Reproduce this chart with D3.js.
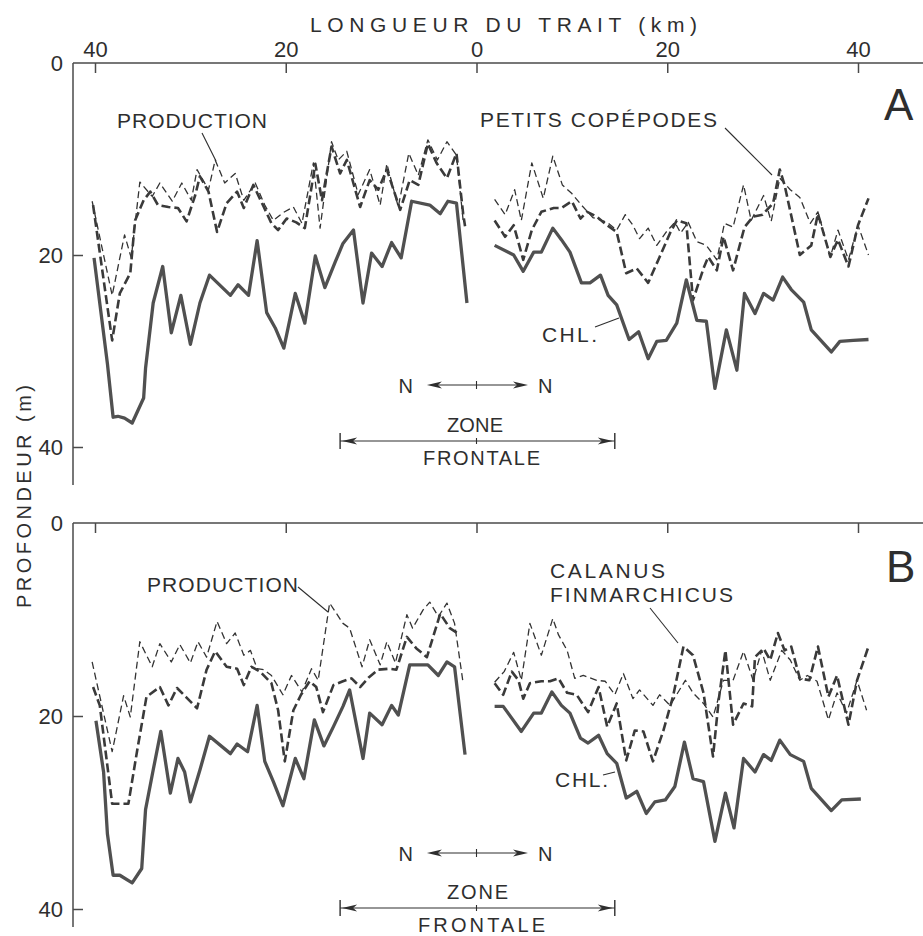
<!DOCTYPE html>
<html><head><meta charset="utf-8">
<script src="https://cdn.jsdelivr.net/npm/d3@7"></script>
<style>
body{margin:0;background:#fff;}
svg{display:block;}
text{font-family:"Liberation Sans",Arial,Helvetica,sans-serif;fill:#2e2e2e;}
</style></head><body>
<svg id="c" width="923" height="936"></svg>
<script>
// ---- axis ticks ----
const xTicks = [-40, -20, 0, 20, 40];
const yTicks = [0, 20, 40];
const xTitle = "LONGUEUR DU TRAIT (km)";
const yTitle = "PROFONDEUR (m)";

// ---- Panel A : [distance km (negative = left branch), depth m] ----
const prodA_L = [[-40.3,14.4],[-38.2,24.2],[-36.9,17.9],[-36.2,20.3],[-35.3,12.4],[-34.0,13.9],[-33.2,12.5],[-31.9,14.4],[-30.9,12.5],[-29.9,14.3],[-29.3,11.1],[-28.1,13.2],[-27.4,10.1],[-26.4,12.5],[-25.3,11.5],[-24.4,14.3],[-23.2,12.5],[-22.2,14.8],[-21.3,16.4],[-20.3,15.6],[-19.2,15.0],[-18.3,16.7],[-17.1,10.4],[-16.4,17.2],[-15.2,8.2],[-14.5,10.1],[-13.6,9.2],[-12.4,13.7],[-11.2,11.1],[-10.1,14.8],[-9.4,10.5],[-8.2,15.0],[-7.1,9.4],[-6.1,11.7],[-5.1,8.0],[-4.1,10.1],[-3.1,8.2],[-2.1,9.6],[-1.4,16.4]];
const copA_L = [[-40.2,14.8],[-38.2,28.9],[-37.4,24.0],[-36.3,21.9],[-35.8,16.4],[-34.9,14.3],[-34.2,13.4],[-33.4,14.8],[-32.3,15.0],[-31.3,15.1],[-30.4,16.5],[-29.5,13.8],[-29.0,11.8],[-28.1,13.4],[-27.2,17.6],[-26.2,14.6],[-25.1,13.4],[-24.4,15.1],[-23.4,12.7],[-22.3,15.0],[-21.5,16.7],[-20.8,17.4],[-19.9,16.2],[-18.9,16.6],[-18.0,17.2],[-16.9,10.5],[-16.2,14.3],[-15.2,8.7],[-14.3,11.5],[-13.6,10.1],[-12.2,15.0],[-11.2,12.2],[-10.3,13.2],[-9.4,11.1],[-8.0,15.3],[-7.0,12.2],[-6.1,12.7],[-5.1,8.4],[-4.2,10.4],[-3.1,12.0],[-2.1,9.4],[-1.4,15.7],[-1.2,17.0]];
const chlA_L = [[-40.1,20.3],[-38.7,31.3],[-38.1,36.9],[-37.6,36.8],[-36.9,37.0],[-36.1,37.5],[-34.9,34.9],[-34.7,31.8],[-33.9,25.0],[-32.9,21.2],[-32.0,28.1],[-31.0,24.2],[-30.0,29.3],[-29.0,25.0],[-28.0,22.1],[-25.8,24.2],[-25.0,23.1],[-23.9,24.2],[-23.0,18.5],[-22.0,26.0],[-21.1,27.6],[-20.2,29.7],[-19.0,24.0],[-18.0,27.1],[-16.9,20.1],[-15.9,23.4],[-14.8,20.7],[-14.0,18.8],[-12.9,17.4],[-11.9,25.0],[-11.0,19.8],[-9.9,21.2],[-8.9,18.7],[-7.9,20.3],[-6.8,14.4],[-4.9,14.8],[-3.8,15.7],[-3.0,14.4],[-2.1,14.6],[-1.0,25.0]];
const prodA_R = [[1.9,14.2],[3.0,15.8],[4.0,13.2],[4.7,16.4],[5.8,10.4],[7.0,14.1],[8.0,9.7],[9.0,12.7],[10.0,13.6],[11.0,14.8],[12.2,16.1],[13.7,16.6],[14.7,17.4],[15.6,15.8],[16.4,16.9],[17.1,18.3],[18.0,17.2],[18.9,19.0],[19.9,17.6],[20.8,16.6],[21.4,17.7],[22.2,16.6],[23.1,18.6],[24.1,19.0],[25.2,20.5],[26.0,16.7],[26.9,17.1],[28.0,12.7],[28.8,16.4],[30.1,13.8],[30.9,16.5],[31.8,12.0],[32.9,13.2],[33.9,14.0],[35.0,16.7],[35.8,15.5],[37.1,20.2],[37.9,17.4],[39.0,20.5],[40.0,16.9],[41.1,20.0]];
const copA_R = [[1.9,16.4],[3.0,18.1],[3.9,16.9],[4.9,20.5],[5.8,17.4],[6.8,15.5],[8.1,15.1],[8.9,15.1],[10.0,14.4],[10.9,16.2],[11.6,15.5],[12.6,16.0],[13.7,16.9],[14.7,17.6],[15.7,21.9],[16.8,21.4],[18.0,22.9],[19.2,20.2],[20.3,17.7],[21.0,16.4],[22.0,16.7],[22.7,24.7],[23.8,21.4],[24.3,20.2],[25.2,21.6],[25.9,18.1],[26.9,21.6],[28.1,17.1],[29.0,16.0],[30.0,15.8],[31.1,14.6],[31.8,11.1],[32.3,12.7],[33.9,20.0],[35.1,19.0],[35.8,15.7],[37.1,20.2],[37.9,18.4],[39.0,21.2],[40.0,16.9],[41.1,14.1]];
const chlA_R = [[1.9,19.0],[3.9,20.0],[4.9,21.7],[6.0,19.7],[6.8,19.7],[8.0,17.2],[8.9,18.4],[9.8,19.7],[11.0,22.9],[11.9,22.9],[13.0,22.1],[13.8,24.2],[14.7,25.2],[16.0,28.8],[17.0,28.0],[18.0,30.8],[18.9,29.0],[19.9,28.9],[21.0,27.1],[22.0,22.6],[23.1,26.8],[24.1,26.9],[25.0,33.9],[26.2,27.8],[27.3,32.0],[28.1,24.0],[29.2,26.1],[30.1,24.0],[31.1,24.7],[32.1,22.3],[33.0,23.6],[34.3,24.9],[35.1,27.8],[37.2,30.1],[38.1,29.0],[39.5,28.9],[41.1,28.8]];

// ---- Panel B ----
const prodB_L = [[-40.3,14.4],[-38.2,23.7],[-37.0,17.9],[-36.3,20.1],[-35.3,12.3],[-34.0,14.9],[-33.2,12.5],[-32.0,14.4],[-31.1,12.6],[-30.0,14.5],[-29.2,12.3],[-28.3,13.9],[-27.2,10.2],[-26.2,12.5],[-25.3,11.4],[-24.4,13.7],[-23.7,13.2],[-23.0,15.1],[-22.3,15.2],[-21.5,15.8],[-20.3,17.8],[-19.4,15.8],[-18.3,17.5],[-17.3,15.1],[-16.6,16.3],[-15.4,8.3],[-14.0,10.4],[-13.3,10.9],[-12.0,14.9],[-11.2,12.1],[-10.1,14.7],[-9.4,12.3],[-8.5,14.5],[-7.3,9.5],[-6.7,10.9],[-5.6,9.0],[-4.9,8.2],[-4.0,9.7],[-3.1,8.3],[-2.3,10.4],[-1.4,16.6]];
const calB_L = [[-40.2,17.0],[-39.5,18.9],[-38.2,29.1],[-36.5,29.1],[-35.6,23.7],[-34.6,18.0],[-33.2,17.0],[-32.3,18.9],[-31.4,17.1],[-30.4,18.1],[-29.3,19.2],[-28.3,15.2],[-27.4,13.3],[-26.2,14.9],[-25.1,15.1],[-24.4,16.8],[-23.6,14.9],[-22.7,15.4],[-21.5,16.6],[-20.8,19.4],[-20.1,24.7],[-19.2,19.4],[-18.4,17.8],[-17.5,16.4],[-16.8,17.0],[-16.1,19.6],[-15.0,16.8],[-14.0,16.4],[-13.1,16.1],[-12.2,17.0],[-11.3,16.0],[-10.3,15.2],[-9.2,15.1],[-8.4,15.2],[-7.3,11.8],[-6.3,13.0],[-5.2,13.9],[-3.8,9.4],[-2.8,10.9],[-2.0,11.4]];
const chlB_L = [[-39.9,20.5],[-39.1,25.8],[-38.7,32.2],[-38.1,36.5],[-37.4,36.5],[-36.1,37.3],[-35.1,35.8],[-34.7,29.7],[-33.9,25.6],[-33.1,21.6],[-32.1,28.0],[-31.3,24.4],[-30.6,25.8],[-30.0,28.9],[-29.0,25.6],[-28.0,22.1],[-25.8,23.9],[-25.1,22.9],[-24.0,23.7],[-23.0,18.9],[-22.2,24.7],[-21.3,26.8],[-20.3,29.3],[-19.0,24.4],[-18.1,26.5],[-17.0,20.4],[-16.0,23.1],[-15.0,21.1],[-14.0,19.0],[-13.3,17.3],[-11.9,24.4],[-11.2,19.7],[-9.9,20.9],[-8.9,18.9],[-8.2,19.9],[-7.0,14.7],[-5.1,14.7],[-4.0,15.8],[-3.1,14.4],[-2.3,14.9],[-1.2,24.0]];
const prodB_R = [[1.9,16.5],[2.9,15.4],[3.9,13.4],[4.7,16.3],[5.6,10.4],[6.8,13.7],[8.0,9.9],[8.6,11.6],[9.5,13.2],[10.3,16.1],[11.2,15.8],[12.6,16.3],[13.5,16.4],[14.5,17.8],[15.4,15.6],[16.4,18.2],[17.1,17.3],[18.5,18.9],[19.2,17.8],[20.3,18.9],[21.9,16.3],[22.7,17.6],[23.8,18.7],[24.8,20.1],[25.9,16.3],[26.9,16.3],[28.0,13.3],[29.0,16.3],[29.9,13.2],[30.8,16.3],[32.0,13.2],[32.9,14.2],[33.9,16.3],[34.7,15.8],[35.7,16.4],[36.9,20.4],[37.8,17.6],[38.8,19.7],[39.9,16.3],[40.9,19.4]];
const calB_R = [[1.9,16.6],[2.8,17.8],[3.7,15.4],[4.4,16.3],[4.9,18.2],[5.6,16.6],[6.8,16.4],[7.7,16.4],[8.6,16.1],[9.5,17.6],[10.5,17.8],[11.7,19.6],[12.8,17.0],[13.7,21.1],[14.7,18.7],[15.7,24.6],[16.6,21.5],[17.5,21.6],[18.5,24.7],[19.6,21.5],[20.6,18.0],[21.7,12.8],[22.7,13.7],[23.8,17.6],[24.8,24.2],[25.4,18.3],[26.1,13.2],[26.9,20.9],[28.0,18.7],[28.9,19.0],[29.2,13.9],[30.1,13.0],[30.8,14.2],[31.6,11.4],[32.3,13.2],[33.0,12.8],[33.9,16.1],[34.9,16.3],[35.8,12.8],[36.9,18.0],[37.8,15.8],[39.0,20.9],[39.9,16.3],[41.1,12.8]];
const chlB_R = [[1.9,19.0],[2.8,19.0],[4.7,21.6],[6.0,19.7],[6.8,19.7],[7.9,17.5],[8.9,18.9],[9.8,19.7],[10.9,22.3],[11.7,22.8],[12.8,22.0],[13.7,23.9],[14.7,24.9],[15.7,28.5],[16.8,27.8],[17.8,30.1],[18.7,28.9],[19.8,28.7],[20.8,27.3],[21.8,22.7],[22.7,26.5],[23.8,26.8],[25.0,33.0],[26.1,28.0],[27.0,31.6],[28.0,24.4],[29.2,25.8],[30.1,24.0],[30.9,24.6],[31.8,22.5],[32.9,24.0],[34.3,24.7],[35.1,27.5],[37.2,29.8],[38.3,28.7],[40.3,28.6]];

// frontal zone and N-arrow extents (km)
const zoneKm = [-14.3, 14.5];
const nArrowKm = [-5.2, 5.4];

// ---- drawing ----
const svg = d3.select("#c");
const INK = "#2e2e2e", AX = "#4a4a4a";
const x = d3.scaleLinear().domain([-40, 40]).range([95, 858]);

const styles = {
  prod: {w: 1.3, dash: "7,4", c: "#333"},
  cop:  {w: 2.6, dash: "9,4", c: "#3a3a3a"},
  chl:  {w: 3.3, dash: null,  c: "#505050"}
};

function arrowHead(g, tipX, y, dir) {
  const L = 15, H = 3.6;
  g.append("path")
    .attr("d", `M${tipX},${y} L${tipX - dir*L},${y - H} L${tipX - dir*(L-4)},${y} L${tipX - dir*L},${y + H} Z`)
    .attr("fill", INK);
}

function panel(cfg) {
  const y = d3.scaleLinear().domain([0, 40]).range([cfg.y0, cfg.y40]);
  const g = svg.append("g");
  g.append("line").attr("x1", 73).attr("x2", 923).attr("y1", cfg.y0).attr("y2", cfg.y0)
    .attr("stroke", AX).attr("stroke-width", 1.5);
  g.append("line").attr("x1", 73).attr("x2", 73).attr("y1", cfg.y0).attr("y2", cfg.yEnd)
    .attr("stroke", AX).attr("stroke-width", 1.5);
  const xa = d3.axisTop(x).tickValues(xTicks).tickSize(-10).tickPadding(8)
    .tickFormat(d => cfg.showXLabels ? Math.abs(d) : "");
  const gx = g.append("g").attr("transform", `translate(0,${cfg.y0})`).call(xa);
  gx.select(".domain").remove();
  gx.selectAll("line").attr("stroke", AX).attr("stroke-width", 1.5);
  gx.selectAll("text").attr("font-size", 22).attr("fill", INK)
    .attr("font-family", "Liberation Sans, Arial, sans-serif").attr("dy", "0.1em");
  const ya = d3.axisLeft(y).tickValues(yTicks).tickSize(-10).tickPadding(10);
  const gy = g.append("g").attr("transform", `translate(73,0)`).call(ya);
  gy.select(".domain").remove();
  gy.selectAll("line").attr("stroke", AX).attr("stroke-width", 1.5)
    .attr("display", d => d === 0 ? "none" : null);
  gy.selectAll("text").attr("font-size", 22).attr("fill", INK)
    .attr("font-family", "Liberation Sans, Arial, sans-serif");

  const line = d3.line().x(d => x(d[0])).y(d => y(d[1]));
  cfg.series.forEach(s => {
    const st = styles[s.kind];
    g.append("path").datum(s.data).attr("d", line)
      .attr("fill", "none").attr("stroke", st.c).attr("stroke-width", st.w)
      .attr("stroke-linejoin", "round").attr("stroke-linecap", "butt")
      .attr("stroke-dasharray", st.dash);
  });

  cfg.labels.forEach(l => {
    const t = g.append("text").attr("x", l.x).attr("y", l.y).attr("font-size", l.fs).text(l.t);
    if (l.len) t.attr("textLength", l.len).attr("lengthAdjust", "spacing");
  });
  cfg.leaders.forEach(p => {
    g.append("line").attr("x1", p[0]).attr("y1", p[1]).attr("x2", p[2]).attr("y2", p[3])
      .attr("stroke", INK).attr("stroke-width", 1.1);
  });
  g.append("text").attr("x", cfg.letter[1]).attr("y", cfg.letter[2]).attr("font-size", 44)
    .text(cfg.letter[0]);

  const ny = cfg.nY, xc = x(0);
  const nx1 = x(nArrowKm[0]), nx2 = x(nArrowKm[1]);
  g.append("line").attr("x1", nx1 + 4).attr("x2", nx2 - 4).attr("y1", ny).attr("y2", ny)
    .attr("stroke", INK).attr("stroke-width", 1.1);
  g.append("line").attr("x1", xc).attr("x2", xc).attr("y1", ny - 4).attr("y2", ny + 4)
    .attr("stroke", INK).attr("stroke-width", 1.1);
  arrowHead(g, nx1, ny, -1);
  arrowHead(g, nx2, ny, 1);
  g.append("text").attr("x", nx1 - 14).attr("y", ny + 8).attr("font-size", 20)
    .attr("text-anchor", "end").text("N");
  g.append("text").attr("x", nx2 + 10).attr("y", ny + 8).attr("font-size", 20).text("N");

  const zy = cfg.zY, zx1 = x(zoneKm[0]), zx2 = x(zoneKm[1]);
  g.append("line").attr("x1", zx1).attr("x2", zx2).attr("y1", zy).attr("y2", zy)
    .attr("stroke", INK).attr("stroke-width", 1.1);
  [zx1, zx2].forEach(v => g.append("line").attr("x1", v).attr("x2", v)
    .attr("y1", zy - 8).attr("y2", zy + 8).attr("stroke", INK).attr("stroke-width", 1.4));
  g.append("line").attr("x1", xc).attr("x2", xc).attr("y1", zy - 3).attr("y2", zy + 3)
    .attr("stroke", INK).attr("stroke-width", 1.1);
  arrowHead(g, zx1 + 2, zy, -1);
  arrowHead(g, zx2 - 2, zy, 1);
  g.append("text").attr("x", 447).attr("y", zy - 9).attr("font-size", 20)
    .attr("textLength", cfg.zoneLen).attr("lengthAdjust", "spacing").text("ZONE");
  g.append("text").attr("x", cfg.frontX).attr("y", zy + 24).attr("font-size", 20)
    .attr("textLength", cfg.frontLen).attr("lengthAdjust", "spacing").text("FRONTALE");
}

panel({
  y0: 63, y40: 447, yEnd: 485, showXLabels: true,
  series: [
    {kind: "prod", data: prodA_L}, {kind: "prod", data: prodA_R},
    {kind: "cop", data: copA_L}, {kind: "cop", data: copA_R},
    {kind: "chl", data: chlA_L}, {kind: "chl", data: chlA_R}
  ],
  labels: [
    {t: "PRODUCTION", x: 117, y: 128, fs: 21, len: 150},
    {t: "PETITS COPÉPODES", x: 480, y: 127, fs: 21, len: 237},
    {t: "CHL.", x: 542, y: 342, fs: 21, len: 55}
  ],
  leaders: [[202,133,216,161],[725,128,772,175],[595,327,619,318]],
  letter: ["A", 884, 120],
  nY: 385, zY: 441, zoneLen: 56, frontX: 423, frontLen: 117
});

panel({
  y0: 523, y40: 909, yEnd: 927, showXLabels: false,
  series: [
    {kind: "prod", data: prodB_L}, {kind: "prod", data: prodB_R},
    {kind: "cop", data: calB_L}, {kind: "cop", data: calB_R},
    {kind: "chl", data: chlB_L}, {kind: "chl", data: chlB_R}
  ],
  labels: [
    {t: "PRODUCTION", x: 147, y: 592, fs: 21, len: 151},
    {t: "CALANUS", x: 550, y: 578, fs: 21, len: 115},
    {t: "FINMARCHICUS", x: 550, y: 602, fs: 21, len: 183},
    {t: "CHL.", x: 555, y: 787, fs: 21, len: 53}
  ],
  leaders: [[298,587,328,612],[650,608,678,643],[603,775,615,772]],
  letter: ["B", 886, 582],
  nY: 853, zY: 908, zoneLen: 61, frontX: 418, frontLen: 127
});

svg.append("text").attr("x", 310).attr("y", 32).attr("font-size", 21)
  .attr("textLength", 387).attr("lengthAdjust", "spacing").text(xTitle);
svg.append("text").attr("transform", "translate(31,608) rotate(-90)").attr("font-size", 20)
  .attr("textLength", 223).attr("lengthAdjust", "spacing").text(yTitle);
</script>
</body></html>
